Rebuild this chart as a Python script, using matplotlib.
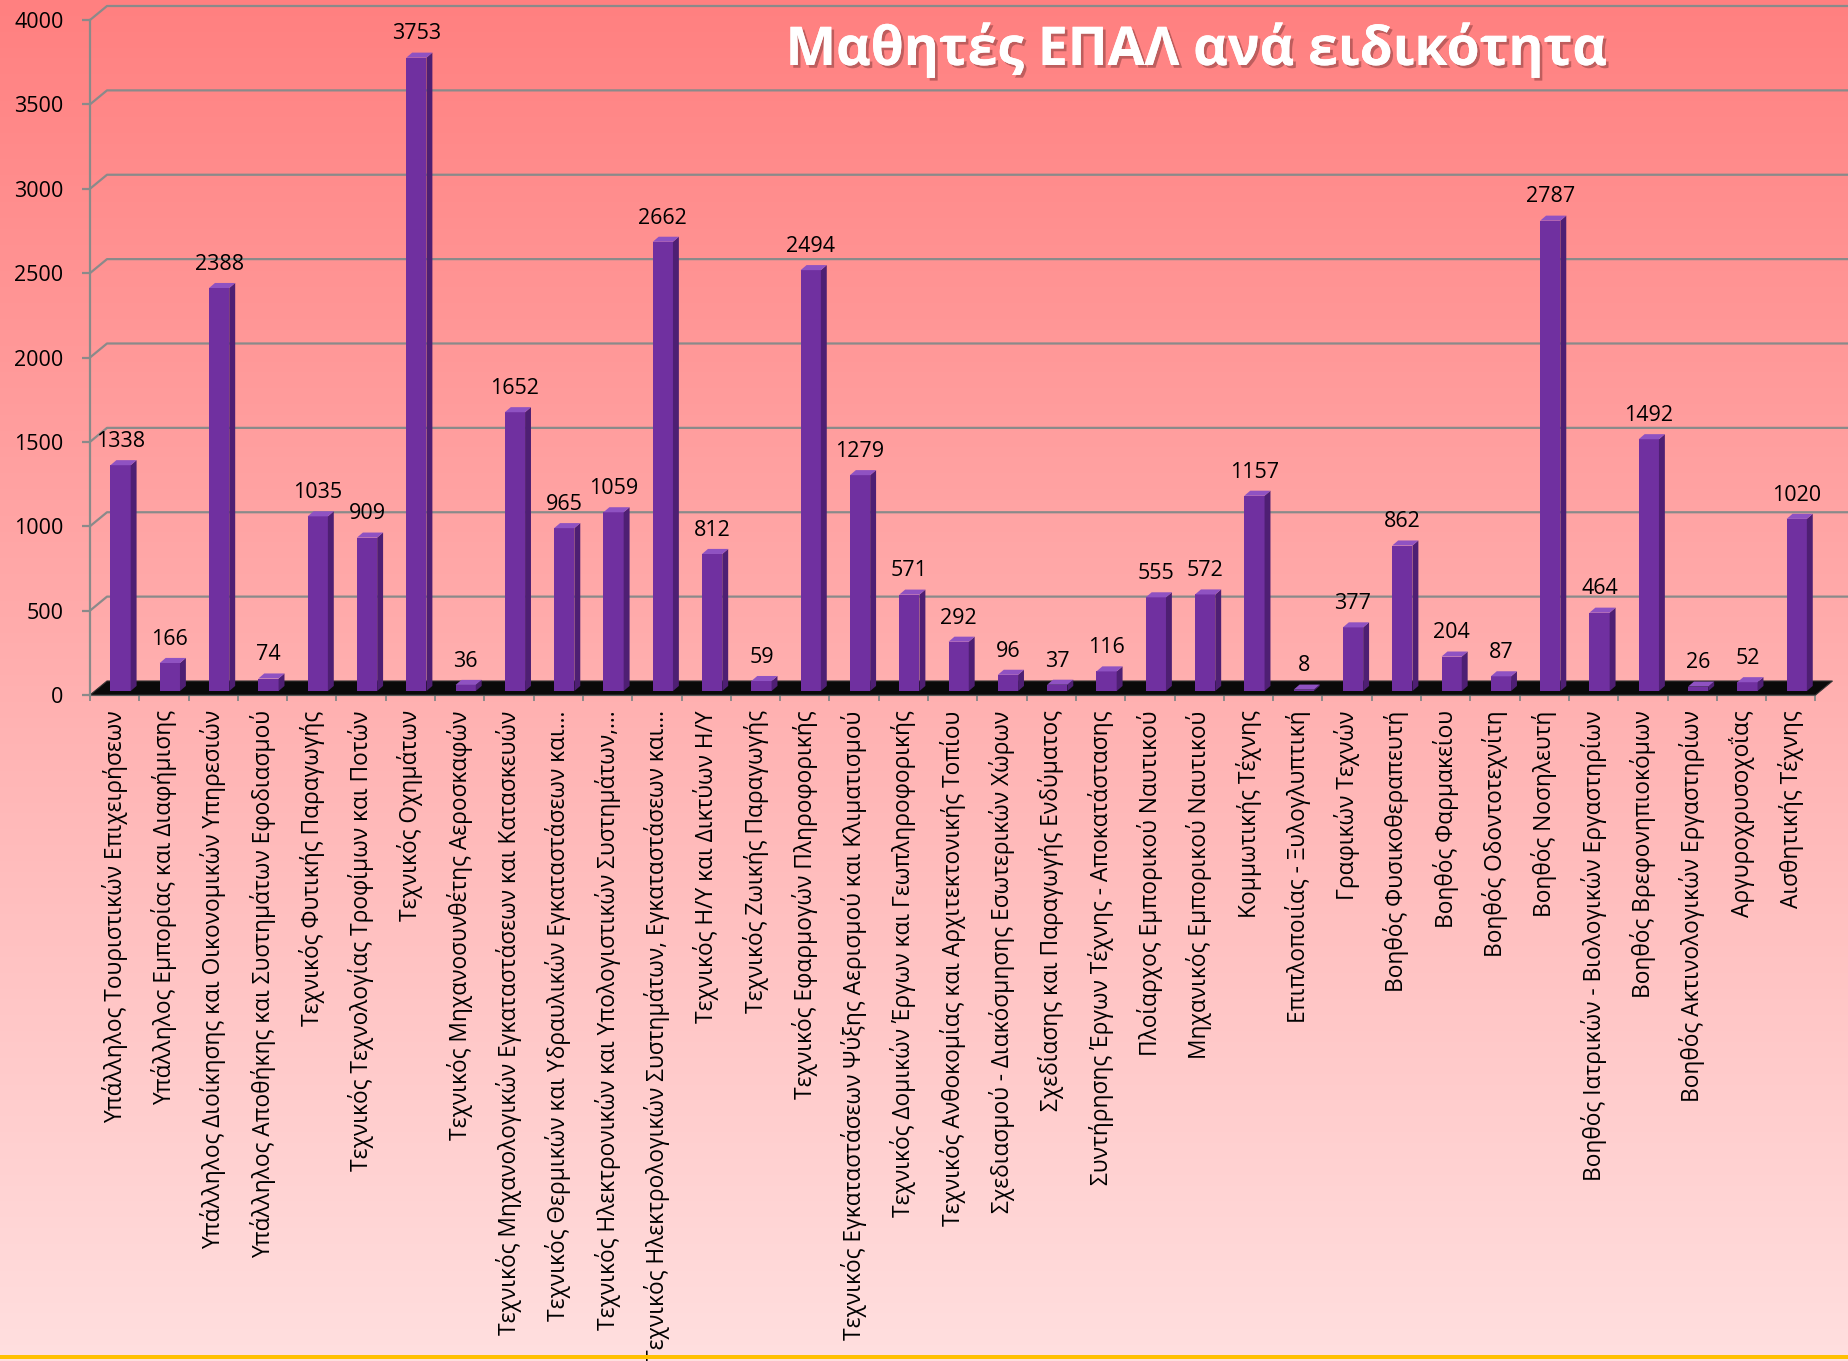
import numpy as np
import matplotlib.pyplot as plt
from matplotlib.patches import Polygon, Rectangle
from matplotlib.transforms import ScaledTranslation
import matplotlib.patheffects as pe

plt.rcParams['font.family'] = ['Open Sans', 'DejaVu Sans']

specialties = [
    "Υπάλληλος Τουριστικών Επιχειρήσεων",
    "Υπάλληλος Εμπορίας και Διαφήμισης",
    "Υπάλληλος Διοίκησης και Οικονομικών Υπηρεσιών",
    "Υπάλληλος Αποθήκης και Συστημάτων Εφοδιασμού",
    "Τεχνικός Φυτικής Παραγωγής",
    "Τεχνικός Τεχνολογίας Τροφίμων και Ποτών",
    "Τεχνικός Οχημάτων",
    "Τεχνικός Μηχανοσυνθέτης Αεροσκαφών",
    "Τεχνικός Μηχανολογικών Εγκαταστάσεων και Κατασκευών",
    "Τεχνικός Θερμικών και Υδραυλικών Εγκαταστάσεων και…",
    "Τεχνικός Ηλεκτρονικών και Υπολογιστικών Συστημάτων,…",
    "Τεχνικός Ηλεκτρολογικών Συστημάτων, Εγκαταστάσεων και…",
    "Τεχνικός Η/Υ και Δικτύων Η/Υ",
    "Τεχνικός Ζωικής Παραγωγής",
    "Τεχνικός Εφαρμογών Πληροφορικής",
    "Τεχνικός Εγκαταστάσεων Ψύξης Αερισμού και Κλιματισμού",
    "Τεχνικός Δομικών Έργων και Γεωπληροφορικής",
    "Τεχνικός Ανθοκομίας και Αρχιτεκτονικής Τοπίου",
    "Σχεδιασμού - Διακόσμησης Εσωτερικών Χώρων",
    "Σχεδίασης και Παραγωγής Ενδύματος",
    "Συντήρησης Έργων Τέχνης - Αποκατάστασης",
    "Πλοίαρχος Εμπορικού Ναυτικού",
    "Μηχανικός Εμπορικού Ναυτικού",
    "Κομμωτικής Τέχνης",
    "Επιπλοποιίας - Ξυλογλυπτική",
    "Γραφικών Τεχνών",
    "Βοηθός Φυσικοθεραπευτή",
    "Βοηθός Φαρμακείου",
    "Βοηθός Οδοντοτεχνίτη",
    "Βοηθός Νοσηλευτή",
    "Βοηθός Ιατρικών - Βιολογικών Εργαστηρίων",
    "Βοηθός Βρεφονηπιοκόμων",
    "Βοηθός Ακτινολογικών Εργαστηρίων",
    "Αργυροχρυσοχοΐας",
    "Αισθητικής Τέχνης",
]
students = [1338, 166, 2388, 74, 1035, 909, 3753, 36, 1652, 965, 1059, 2662,
            812, 59, 2494, 1279, 571, 292, 96, 37, 116, 555, 572, 1157, 8,
            377, 862, 204, 87, 2787, 464, 1492, 26, 52, 1020]
yticks = list(range(0, 4001, 500))
title = "Μαθητές ΕΠΑΛ ανά ειδικότητα"

W, H = 1849, 1361
fig = plt.figure(figsize=(W / 100, H / 100), dpi=100)

# background gradient
bg = fig.add_axes([0, 0, 1, 1], zorder=-10)
t = np.linspace(0, 1, 256)[:, None, None]
c_top = np.array([255, 128, 128]) / 255
c_bot = np.array([255, 223, 223]) / 255
bg.imshow(c_top + (c_bot - c_top) * t, aspect='auto', extent=[0, 1, 0, 1])
bg.set_xlim(0, 1)
bg.set_ylim(0, 1)
bg.axis('off')
fig.add_artist(Rectangle((0, 0.0015), 1, 0.0032, transform=fig.transFigure,
                         color='#FFC000', lw=0))

ax = fig.add_axes([90 / W, 1 - 695 / H, 1 - 90 / W, 675 / H])
ax.set_facecolor('none')
x0, x1 = -0.62, 35.06
ax.set_xlim(x0, x1)
ax.set_ylim(0, 4000)

grey = '#8A8A8A'
gx, gy = 0.345, 83      # back wall offset
floor_end = 34.38

# back wall gridlines
for v in yticks[1:]:
    ax.plot([x0, x0 + gx, x1], [v, v + gy, v + gy], color=grey, lw=1.6,
            clip_on=False, zorder=1)

# floor
ax.add_patch(Polygon([(x0, 0), (floor_end, 0), (floor_end + gx, gy), (x0 + gx, gy)],
                     closed=True, fc='#0a0a0a', ec='#333333', lw=0.8, zorder=2,
                     clip_on=False))

# bars
xs = np.arange(len(students))
bw, dx, dy = 0.41, 0.12, 30
shift = ax.transData + ScaledTranslation(0, 0.04, fig.dpi_scale_trans)
ax.bar(xs, students, width=bw, color='#7030A0', zorder=3, transform=shift)
for x, v in zip(xs, students):
    r, l = x + bw / 2, x - bw / 2
    ax.add_patch(Polygon([(r, 0), (r + dx, dy), (r + dx, v + dy), (r, v)],
                         fc='#4E1F73', lw=0, zorder=3, transform=shift))
    ax.add_patch(Polygon([(l, v), (r, v), (r + dx, v + dy), (l + dx, v + dy)],
                         fc='#8F52C2', lw=0, zorder=3, transform=shift))
    ax.annotate(str(v), (x, v), xytext=(0, 16), textcoords='offset points',
                ha='center', va='baseline', fontsize=15.5, zorder=4)

# axes styling
for s in ['top', 'right']:
    ax.spines[s].set_visible(False)
ax.spines['left'].set_color(grey)
ax.spines['left'].set_linewidth(1.6)
ax.spines['bottom'].set_color(grey)
ax.spines['bottom'].set_linewidth(1.6)
ax.spines['bottom'].set_bounds(x0, floor_end)
ax.spines['bottom'].set_zorder(1)

ax.set_yticks(yticks)
ax.tick_params(axis='y', length=6, width=1.6, color=grey, pad=13, labelsize=15.5)
ax.set_xticks(xs - 0.12)
ax.set_xticklabels(specialties, rotation=90, fontsize=16.4)
ax.tick_params(axis='x', which='major', length=0, pad=11)
ax.set_xticks(np.arange(len(students) + 1) - 0.62, minor=True)
ax.tick_params(axis='x', which='minor', length=4, width=1.4, color=grey)

fig.text(1196 / W, 1 - 50 / H, title, ha='center', va='center', color='white',
         fontsize=38.5, fontweight='bold',
         path_effects=[pe.withSimplePatchShadow(offset=(2, -2), shadow_rgbFace='#703030',
                                                alpha=0.45), pe.Normal()])

fig.savefig('out.png', dpi=100)
